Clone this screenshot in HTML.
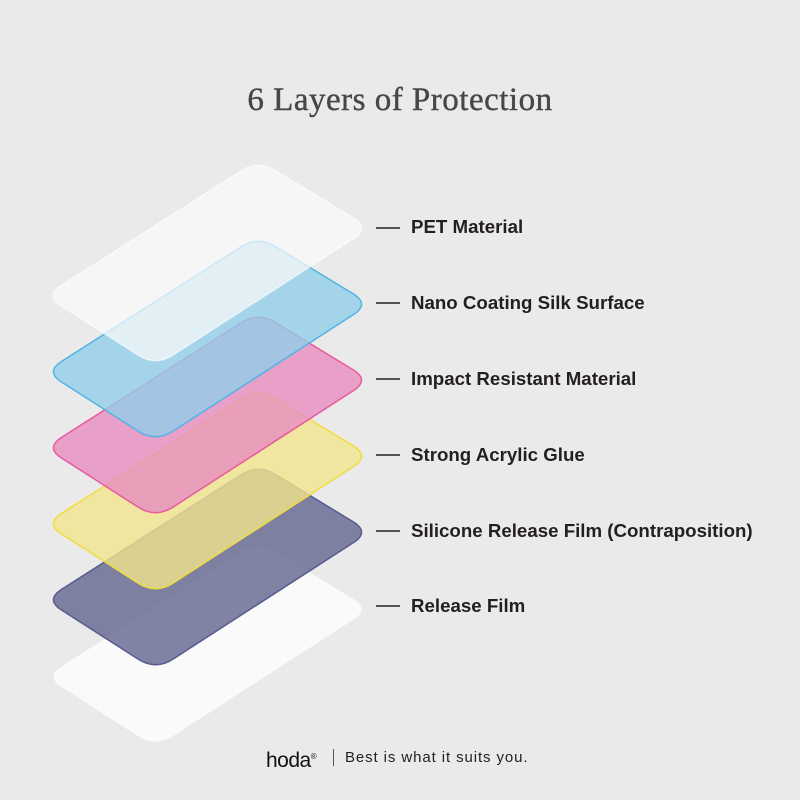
<!DOCTYPE html>
<html><head><meta charset="utf-8"><style>
body{margin:0;width:800px;height:800px;background:#ebeaea;overflow:hidden;position:relative;font-family:"Liberation Sans",sans-serif}
.t{position:absolute;left:0;width:800px;text-align:center;top:82px;font-family:"Liberation Serif",serif;font-size:33px;color:#474747;letter-spacing:0.5px;-webkit-text-stroke:0.4px #474747}
.l{position:absolute;left:411px;font-size:18.7px;font-weight:bold;color:#231f1f;line-height:20px}
.d{position:absolute;left:376px;width:24px;height:1.5px;background:#555}
</style></head><body>
<div class="t">6 Layers of Protection</div>
<svg width="800" height="800" style="position:absolute;left:0;top:0">
<defs><path id="p" d="M275.1,170.4 L352.9,217.6 Q370,228 353.2,238.8 L172.8,355.2 Q156,366 138.9,355.6 L62.1,306.4 Q45,296 61.8,285.2 L241.2,170.8 Q258,160 275.1,170.4 Z"/></defs>
<use href="#p" transform="translate(0,381)" fill="#fafafa"/>
<use href="#p" transform="translate(0,304)" fill="#63658f" fill-opacity="0.8" stroke="#565a90" stroke-width="1.5"/>
<use href="#p" transform="translate(0,228)" fill="#f1e58d" fill-opacity="0.8" stroke="#f0dc40" stroke-width="1.5"/>
<use href="#p" transform="translate(0,152)" fill="#e78dbf" fill-opacity="0.8" stroke="#e85a9e" stroke-width="1.5"/>
<use href="#p" transform="translate(0,76)" fill="#91ceea" fill-opacity="0.8" stroke="#52b4e6" stroke-width="1.5"/>
<use href="#p" fill="#fbfbfb" fill-opacity="0.72" stroke="#ffffff" stroke-opacity="0.6" stroke-width="1.5"/>
</svg>
<div class="d" style="top:227px"></div><div class="l" style="top:217px">PET Material</div>
<div class="d" style="top:302px"></div><div class="l" style="top:293px">Nano Coating Silk Surface</div>
<div class="d" style="top:378px"></div><div class="l" style="top:369px">Impact Resistant Material</div>
<div class="d" style="top:454px"></div><div class="l" style="top:445px">Strong Acrylic Glue</div>
<div class="d" style="top:530px"></div><div class="l" style="top:521px">Silicone Release Film (Contraposition)</div>
<div class="d" style="top:605px"></div><div class="l" style="top:596px">Release Film</div>
<div style="position:absolute;left:266px;top:746px;font-size:21px;color:#111;letter-spacing:-0.5px;line-height:22px">hoda<sup style="font-size:8px">®</sup></div>
<div style="position:absolute;left:333px;top:749px;width:1px;height:17px;background:#555"></div>
<div style="position:absolute;left:345px;top:749px;font-size:15px;color:#222;letter-spacing:0.9px;line-height:18px">Best is what it suits you.</div>
</body></html>
